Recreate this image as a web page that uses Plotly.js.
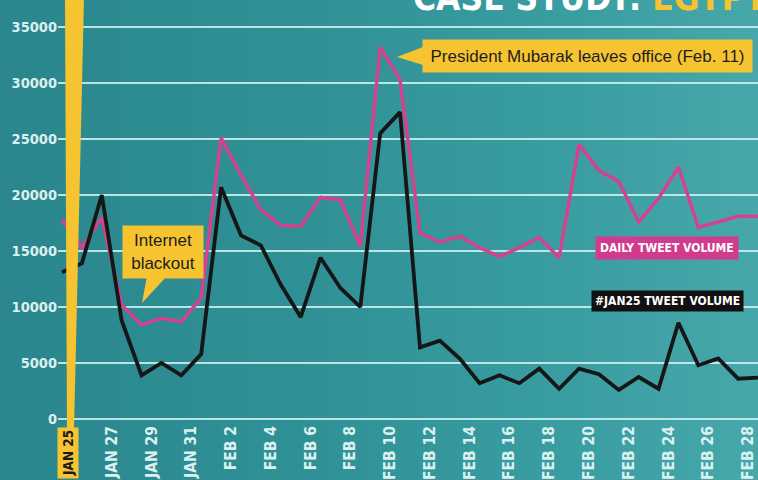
<!DOCTYPE html>
<html>
<head>
<meta charset="utf-8">
<script src="https://cdn.plot.ly/plotly-3.0.1.min.js"></script>
<style>
html,body{margin:0;padding:0;}
body{width:758px;height:480px;overflow:hidden;
 background:linear-gradient(90deg,#2a868c 0%,#2f9196 40%,#3a9da1 75%,#47a8ab 100%);}
#chart{width:758px;height:480px;}
</style>
</head>
<body>
<div id="chart"></div>
<script>
// ---- data ----
const dates = [
 '2011-01-25','2011-01-26','2011-01-27','2011-01-28','2011-01-29','2011-01-30','2011-01-31',
 '2011-02-01','2011-02-02','2011-02-03','2011-02-04','2011-02-05','2011-02-06','2011-02-07',
 '2011-02-08','2011-02-09','2011-02-10','2011-02-11','2011-02-12','2011-02-13','2011-02-14',
 '2011-02-15','2011-02-16','2011-02-17','2011-02-18','2011-02-19','2011-02-20','2011-02-21',
 '2011-02-22','2011-02-23','2011-02-24','2011-02-25','2011-02-26','2011-02-27','2011-02-28',
 '2011-03-01'
];
const dailyVolume = [
 17800,15300,18000,10200,8400,9000,8700,
 10800,25100,21800,18700,17300,17200,19800,
 19600,15400,33200,30300,16600,15800,16300,
 15300,14500,15300,16200,14400,24500,22200,
 21200,17600,19700,22500,17100,17600,18100,
 18100
];
const jan25Volume = [
 13100,13900,20000,8800,3900,5000,3900,
 5800,20700,16400,15500,12000,9100,14400,
 11700,10000,25500,27400,6400,7000,5400,
 3200,3900,3200,4500,2700,4500,4000,
 2600,3750,2700,8600,4800,5400,3600,
 3700
];
const tickDates = ['2011-01-25','2011-01-27','2011-01-29','2011-01-31','2011-02-02','2011-02-04',
 '2011-02-06','2011-02-08','2011-02-10','2011-02-12','2011-02-14','2011-02-16','2011-02-18',
 '2011-02-20','2011-02-22','2011-02-24','2011-02-26','2011-02-28'];
const tickLabels = ['JAN 25','JAN 27','JAN 29','JAN 31','FEB 2','FEB 4','FEB 6','FEB 8','FEB 10',
 'FEB 12','FEB 14','FEB 16','FEB 18','FEB 20','FEB 22','FEB 24','FEB 26','FEB 28'];
const yTicks = [0,5000,10000,15000,20000,25000,30000,35000];

const seriesNames = ['DAILY TWEET VOLUME','#JAN25 TWEET VOLUME'];
const titleText = 'CASE STUDY: ';
const titleHighlight = 'EGYPT';
const noteMubarak = 'President Mubarak leaves office (Feb. 11)';
const noteBlackout = 'Internet<br>blackout';

// ---- styling ----
const NARROW = "'Liberation Sans Narrow','DejaVu Sans Condensed','Arial Narrow',sans-serif";
const SANS = "'Liberation Sans',Arial,sans-serif";
const PINK = '#d8408f';
const BLACK = '#161616';
const YELLOW = '#f6c431';
const LIGHT = '#dcf0f0';
const GRID = 'rgba(205,240,240,0.88)';

const L = 58, W = 700, PH = 419;
const px = x => (x - L) / W;
const py = y => (PH - y) / PH;
const pt = (x, y) => px(x).toFixed(5) + ',' + py(y).toFixed(5);

const traces = [
 {x: dates, y: dailyVolume, type: 'scatter', mode: 'lines', name: seriesNames[0],
  line: {color: PINK, width: 3.4}, hoverinfo: 'skip'},
 {x: dates, y: jan25Volume, type: 'scatter', mode: 'lines', name: seriesNames[1],
  line: {color: BLACK, width: 3.8}, hoverinfo: 'skip'}
];

const layout = {
 width: 758, height: 480,
 margin: {l: L, r: 0, t: 0, b: 61},
 paper_bgcolor: 'rgba(0,0,0,0)', plot_bgcolor: 'rgba(0,0,0,0)',
 showlegend: false,
 xaxis: {
  type: 'date',
  range: ['2011-01-24 19:10', '2011-03-01 00:00'],
  tickvals: tickDates.slice(1).map(d => d + ' 12:00'),
  ticktext: tickLabels.slice(1),
  tickangle: -90,
  ticklabelstandoff: 3,
  ticks: '', showgrid: false, zeroline: false, showline: false,
  tickfont: {family: NARROW, size: 15.5, color: LIGHT, weight: 'bold'}
 },
 yaxis: {
  range: [0, 37411],
  tickvals: yTicks, ticktext: yTicks.map(String),
  ticks: '', showline: false,
  showgrid: true, gridcolor: GRID, gridwidth: 2,
  zeroline: true, zerolinecolor: GRID, zerolinewidth: 2,
  tickfont: {family: NARROW, size: 14.5, color: LIGHT, weight: 'bold'}
 },
 shapes: [
  {type: 'path', xref: 'paper', yref: 'paper', layer: 'above', line: {width: 0}, fillcolor: YELLOW,
   path: 'M' + pt(65, -2) + 'L' + pt(84, -2) + 'L' + pt(74, 430) + 'L' + pt(67, 430) + 'Z'},
  {type: 'path', xref: 'paper', yref: 'paper', layer: 'above', line: {width: 0}, fillcolor: YELLOW,
   path: 'M' + pt(423, 47) + 'L' + pt(423, 65) + 'L' + pt(397, 57) + 'Z'},
  {type: 'path', xref: 'paper', yref: 'paper', layer: 'above', line: {width: 0}, fillcolor: YELLOW,
   path: 'M' + pt(147, 276) + 'L' + pt(167, 276) + 'L' + pt(142, 303) + 'Z'}
 ],
 annotations: [
  {text: titleText + '<span style="color:' + YELLOW + '">' + titleHighlight + '</span>',
   xref: 'paper', yref: 'paper', x: px(411), y: py(20), xanchor: 'left', yanchor: 'bottom',
   showarrow: false, font: {family: NARROW, size: 35, color: '#ffffff', weight: 'bold'}},
  {text: noteMubarak, xref: 'paper', yref: 'paper', x: px(422), y: py(39), xanchor: 'left', yanchor: 'top',
   showarrow: false, bgcolor: YELLOW, borderpad: 2, width: 325, height: 28,
   font: {family: SANS, size: 17, color: '#1e1e1e'}},
  {text: noteBlackout, xref: 'paper', yref: 'paper', x: px(122), y: py(225), xanchor: 'left', yanchor: 'top',
   showarrow: false, bgcolor: YELLOW, borderpad: 2, width: 76, height: 48,
   font: {family: SANS, size: 17, color: '#1e1e1e'}},
  {text: seriesNames[0], xref: 'paper', yref: 'paper', x: px(739), y: py(236), xanchor: 'right', yanchor: 'top',
   showarrow: false, bgcolor: '#d23a8d', borderpad: 4,
   font: {family: NARROW, size: 12, color: '#ffffff', weight: 'bold'}},
  {text: seriesNames[1], xref: 'paper', yref: 'paper', x: px(744), y: py(290), xanchor: 'right', yanchor: 'top',
   showarrow: false, bgcolor: '#111111', borderpad: 3,
   font: {family: NARROW, size: 12, color: '#ffffff', weight: 'bold'}},
  {text: tickLabels[0], xref: 'paper', yref: 'paper', x: px(68), y: py(427), xanchor: 'center', yanchor: 'top',
   textangle: -90, showarrow: false, bgcolor: YELLOW, borderpad: 2,
   font: {family: NARROW, size: 13.5, color: '#1a1a1a', weight: 'bold'}}
 ]
};

Plotly.newPlot('chart', traces, layout, {staticPlot: true, displayModeBar: false});
</script>
</body>
</html>
